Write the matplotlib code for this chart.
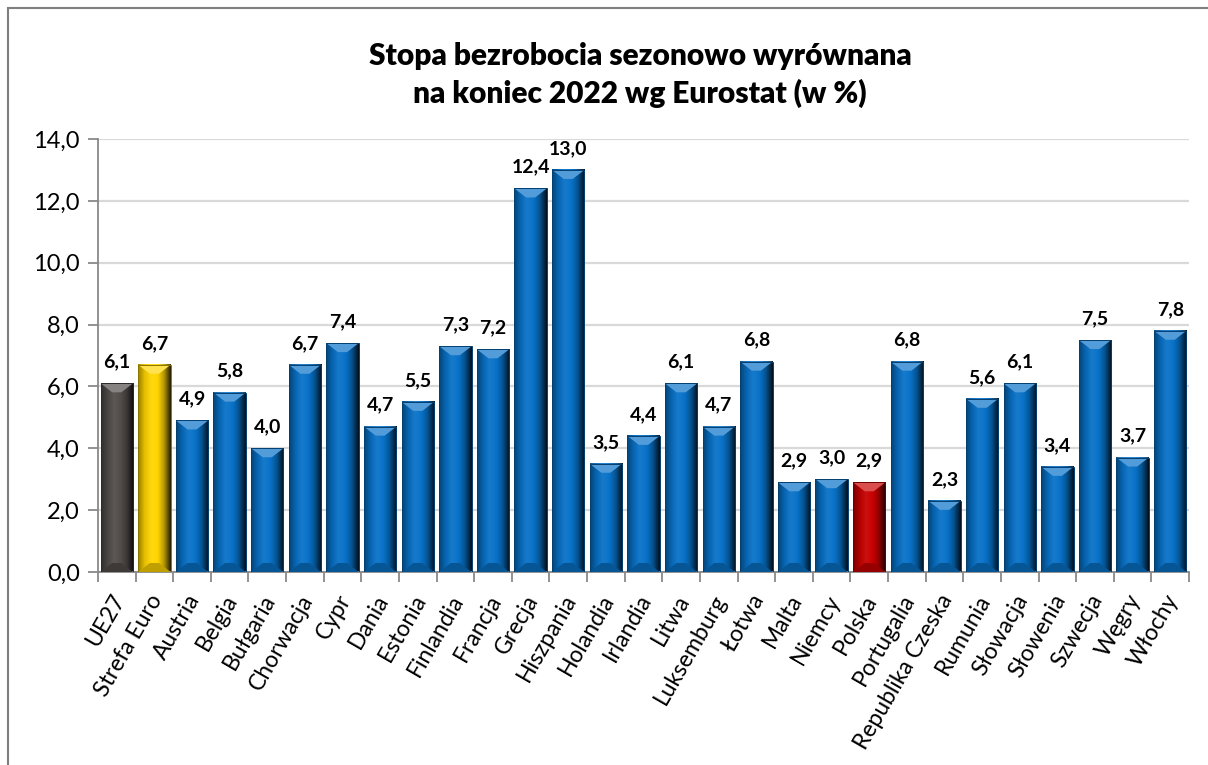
import matplotlib.pyplot as plt
import matplotlib.transforms as mtransforms
import numpy as np
from matplotlib.patches import Rectangle, Polygon
from matplotlib.colors import LinearSegmentedColormap, to_rgb

plt.rcParams['font.family'] = ['Lato', 'DejaVu Sans']

countries = ['UE27', 'Strefa Euro', 'Austria', 'Belgia', 'Bułgaria', 'Chorwacja', 'Cypr',
             'Dania', 'Estonia', 'Finlandia', 'Francja', 'Grecja', 'Hiszpania', 'Holandia',
             'Irlandia', 'Litwa', 'Luksemburg', 'Łotwa', 'Malta', 'Niemcy', 'Polska',
             'Portugalia', 'Republika Czeska', 'Rumunia', 'Słowacja', 'Słowenia', 'Szwecja',
             'Węgry', 'Włochy']
rates = [6.1, 6.7, 4.9, 5.8, 4.0, 6.7, 7.4, 4.7, 5.5, 7.3, 7.2, 12.4, 13.0, 3.5,
         4.4, 6.1, 4.7, 6.8, 2.9, 3.0, 2.9, 6.8, 2.3, 5.6, 6.1, 3.4, 7.5, 3.7, 7.8]
special = {'UE27': '#524d4b', 'Strefa Euro': '#ffd500', 'Polska': '#c80000'}
base_blue = '#0872c8'

fig = plt.figure(figsize=(12.08, 7.65), dpi=100)
ax = fig.add_axes([0.0811, 0.2523, 0.9032, 0.566])

x = np.arange(len(countries))
w = 0.86
ax.set_xlim(-0.5, len(countries) - 0.5)
ax.set_ylim(0, 14)

# pixel -> data scale for the bevel
px_y = 14 / (0.566 * 765)


def shade(c, f):
    r = np.array(to_rgb(c))
    if f < 0:
        return tuple(r * (1 + f))
    return tuple(r + (1 - r) * f)


for xi, v, name in zip(x, rates, countries):
    c = special.get(name, base_blue)
    cmap = LinearSegmentedColormap.from_list('b', [shade(c, -0.4), shade(c, -0.1), shade(c, 0.06),
                                                   c, shade(c, -0.3), shade(c, -0.85)])
    grad = np.linspace(0, 1, 64).reshape(1, -1)
    x0, x1 = xi - w / 2, xi + w / 2
    ax.imshow(grad, cmap=cmap, extent=(x0, x1, 0, v), aspect='auto', zorder=2,
              interpolation='bilinear')
    bx, by = 0.36 * w, 9 * px_y
    top = Polygon([(x0, v), (x1, v), (x1 - bx, v - by), (x0 + bx, v - by)],
                  closed=True, facecolor=shade(c, 0.3), edgecolor='none', zorder=3)
    ax.add_patch(top)
    bot = Polygon([(x0, 0), (x1, 0), (x1 - bx, by), (x0 + bx, by)],
                  closed=True, facecolor=shade(c, -0.25), edgecolor='none', zorder=3)
    ax.add_patch(bot)
    ax.add_patch(Rectangle((x0, 0), w, v, facecolor='none',
                           edgecolor=shade(c, -0.45), linewidth=0.7, zorder=4))
    ax.text(xi, v + 0.42, f'{v:.1f}'.replace('.', ','), ha='center', va='bottom',
            fontsize=14, fontweight='bold', zorder=5)

ax.set_yticks(np.arange(0, 15, 2))
ax.set_yticklabels([f'{t:.1f}'.replace('.', ',') for t in np.arange(0, 15, 2)], fontsize=17)

# category labels, rotated, anchored at their right end
ax.set_xticks(x)
ax.set_xticklabels([])
shift = mtransforms.ScaledTranslation(3 / 100, -24 / 100, fig.dpi_scale_trans)
for xi, name in zip(x, countries):
    ax.text(xi, 0, name, transform=ax.get_xaxis_transform() + shift, rotation=60,
            ha='right', va='center', rotation_mode='anchor', fontsize=16.5)

ax.set_xticks(np.arange(-0.5, len(countries), 1), minor=True)
ax.tick_params(axis='x', which='major', length=0)
ax.tick_params(axis='x', which='minor', length=7, color='#898989', width=1.3)
ax.tick_params(axis='y', length=7, color='#898989', width=1.3, pad=6)
ax.grid(axis='y', color='#d9d9d9', linewidth=1.6, zorder=0)
ax.set_axisbelow(True)
for s in ['top', 'right']:
    ax.spines[s].set_visible(False)
for s in ['left', 'bottom']:
    ax.spines[s].set_color('#898989')
    ax.spines[s].set_linewidth(1.3)

fig.text(0.53, 0.902, 'Stopa bezrobocia sezonowo wyrównana\nna koniec 2022 wg Eurostat (w %)',
         ha='center', va='center', fontsize=21.5, fontweight='heavy', linespacing=1.35)

# outer chart border
fig.add_artist(Rectangle((8 / 1208, -0.1), 1.2, 1.0 - 8 / 765 + 0.1,
                         transform=fig.transFigure, facecolor='none',
                         edgecolor='#7f7f7f', linewidth=1.5))

fig.savefig('out.png', dpi=100)
